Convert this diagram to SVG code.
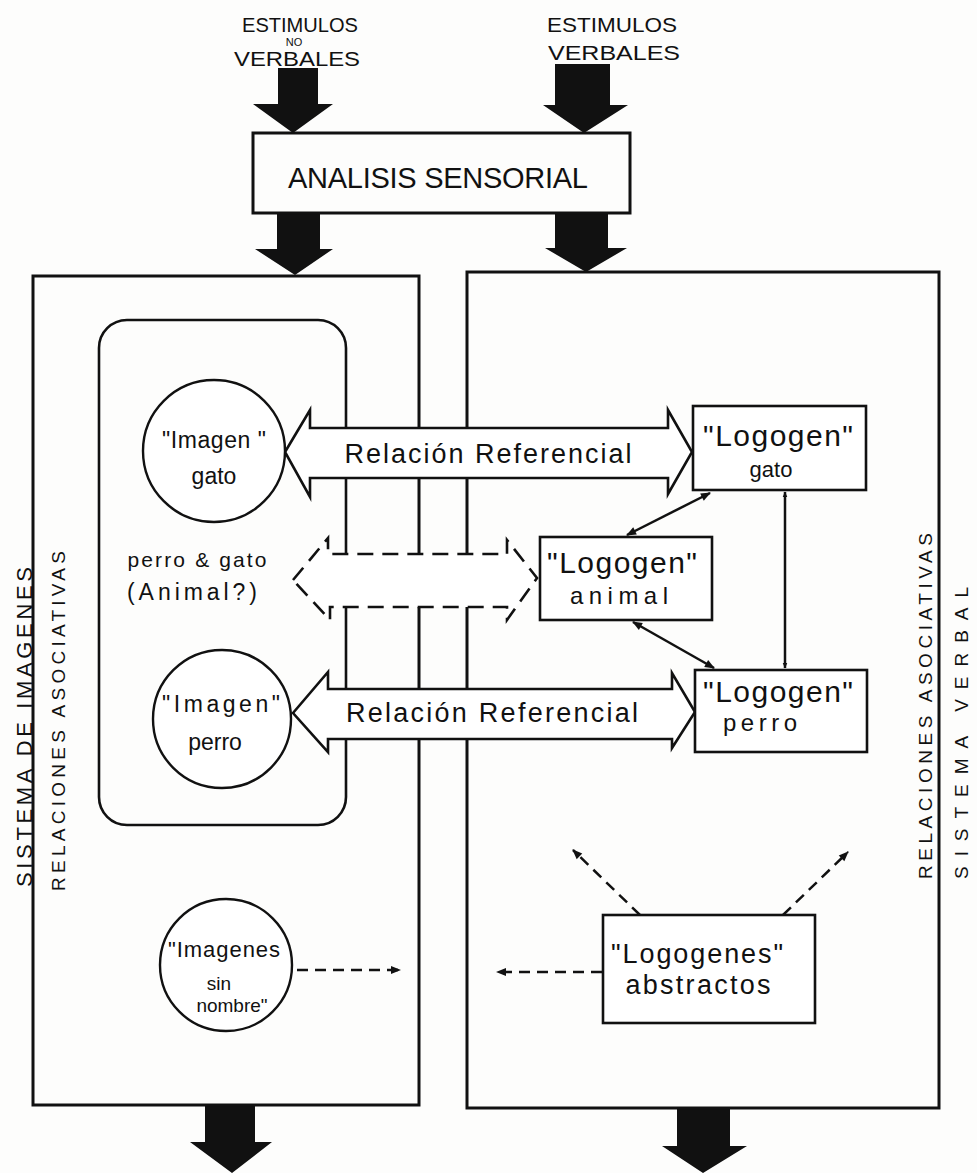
<svg xmlns="http://www.w3.org/2000/svg" width="977" height="1173" viewBox="0 0 977 1173">
<style>
  .bg{fill:#fdfdfc}
  .box{fill:none;stroke:#111;stroke-width:3}
  .wbox{fill:#fff;stroke:#111;stroke-width:2.6}
  .circ{fill:#fff;stroke:#111;stroke-width:2.4}
  .blk{fill:#111;stroke:none}
  .dbl{fill:#fff;stroke:#111;stroke-width:2.6;stroke-linejoin:miter}
  .dash{fill:#fff;stroke:#111;stroke-width:2.6;stroke-dasharray:16 9}
  .ln{fill:none;stroke:#111;stroke-width:2.5}
  .dl{fill:none;stroke:#111;stroke-width:2.5;stroke-dasharray:11 7}
  text{font-family:"Liberation Sans","DejaVu Sans",sans-serif;fill:#111}
  .cap{font-size:21px}
  .hw{font-size:22px}
  .side{font-size:20px}
</style>
<defs>
  <marker id="ah" viewBox="0 0 10 10" refX="9" refY="5" markerWidth="6" markerHeight="6" orient="auto-start-reverse" markerUnits="userSpaceOnUse">
    <path d="M0,1 L10,5 L0,9 Z" fill="#111"/>
  </marker>
  <marker id="ah2" viewBox="0 0 10 10" refX="9" refY="5" markerWidth="12" markerHeight="10" orient="auto-start-reverse" markerUnits="userSpaceOnUse">
    <path d="M0,1 L10,5 L0,9 Z" fill="#111"/>
  </marker>
</defs>
<rect class="bg" x="0" y="0" width="977" height="1173"/>

<g id="labels-top">
  <text class="cap" x="300" y="32" text-anchor="middle" textLength="116" lengthAdjust="spacingAndGlyphs">ESTIMULOS</text>
  <text x="294" y="46" text-anchor="middle" style="font-size:11px">NO</text>
  <text class="cap" x="297" y="66" text-anchor="middle" textLength="126" lengthAdjust="spacingAndGlyphs">VERBALES</text>
  <text class="cap" x="612" y="32" text-anchor="middle" textLength="130" lengthAdjust="spacingAndGlyphs">ESTIMULOS</text>
  <text class="cap" x="614" y="60" text-anchor="middle" textLength="132" lengthAdjust="spacingAndGlyphs">VERBALES</text>
</g>

<g id="connectors">
  <polygon class="blk" points="278,68 318,68 318,104 333,104 293,133 253,104 278,104"/>
  <polygon class="blk" points="555,64 610,64 610,105 628,105 584,133 543,105 555,105"/>
  <polygon class="blk" points="277,213 320,213 320,249 333,249 295,275 255,249 277,249"/>
  <polygon class="blk" points="555,213 608,213 608,248 627,248 586,272 545,248 555,248"/>
  <polygon class="blk" points="205,1105 255,1105 255,1142 272,1142 232,1173 190,1142 205,1142"/>
  <polygon class="blk" points="677,1108 730,1108 730,1146 747,1146 703,1173 662,1146 677,1146"/>
</g>

<g id="analisis">
  <rect class="box" x="253" y="133" width="377" height="80" fill="#fff"/>
  <text x="438" y="188" text-anchor="middle" style="font-size:29px" textLength="300" lengthAdjust="spacing">ANALISIS  SENSORIAL</text>
</g>

<g id="sistema-imagenes">
  <rect class="box" x="33" y="276" width="386" height="829"/>
  <text class="side" transform="translate(32,727) rotate(-90)" text-anchor="middle" style="font-size:22px" textLength="320" lengthAdjust="spacing">SISTEMA DE IMAGENES</text>
  <text class="side" transform="translate(65,721) rotate(-90)" text-anchor="middle" style="font-size:19px" textLength="340" lengthAdjust="spacing">RELACIONES ASOCIATIVAS</text>
</g>

<g id="sistema-verbal">
  <rect class="box" x="467" y="272" width="472" height="836"/>
  <text class="side" transform="translate(932,706) rotate(-90)" text-anchor="middle" style="font-size:19px" textLength="346" lengthAdjust="spacing">RELACIONES ASOCIATIVAS</text>
  <text class="side" transform="translate(968,733) rotate(-90)" text-anchor="middle" style="font-size:19px" textLength="292" lengthAdjust="spacing">SISTEMA VERBAL</text>
</g>

<g id="grupo-imagenes">
  <rect class="box" x="99" y="320" width="247" height="505" rx="28" ry="28" style="stroke-width:2.6"/>
</g>

<g id="relaciones">
  <polygon class="dbl" points="285,452 310,410 310,428 668,428 668,410 692,452 668,494 668,478 310,478 310,497"/>
  <text class="hw" x="488" y="463" text-anchor="middle" style="font-size:27px" textLength="287" lengthAdjust="spacing">Relación Referencial</text>
  <polygon class="dash" points="293,580 328,538 328,554 507,554 507,540 537,578 507,620 507,607 330,607 330,620"/>
  <polygon class="dbl" points="293,713 328,672 328,689 672,689 672,673 695,712 672,748 672,739 328,739 328,752"/>
  <text class="hw" x="492" y="722" text-anchor="middle" style="font-size:27px" textLength="292" lengthAdjust="spacing">Relación Referencial</text>
</g>

<g id="imagen-gato">
  <circle class="circ" cx="214" cy="451" r="71"/>
  <text class="hw" x="214" y="448" text-anchor="middle" style="font-size:23px" textLength="104" lengthAdjust="spacing">"Imagen "</text>
  <text class="hw" x="214" y="484" text-anchor="middle" style="font-size:23px">gato</text>
</g>

<g id="perro-gato">
  <text class="hw" x="197" y="567" text-anchor="middle" style="font-size:21px" textLength="139" lengthAdjust="spacing">perro &amp; gato</text>
  <text class="hw" x="192" y="600" text-anchor="middle" style="font-size:23px" textLength="130" lengthAdjust="spacing">(Animal?)</text>
</g>

<g id="imagen-perro">
  <circle class="circ" cx="222" cy="719" r="69"/>
  <text class="hw" x="221" y="712" text-anchor="middle" style="font-size:23px" textLength="118" lengthAdjust="spacing">"Imagen"</text>
  <text class="hw" x="215" y="750" text-anchor="middle" style="font-size:23px">perro</text>
</g>

<g id="imagenes-sin-nombre">
  <circle class="circ" cx="226" cy="965" r="66"/>
  <text class="hw" x="224" y="957" text-anchor="middle" textLength="112" lengthAdjust="spacing">"Imagenes</text>
  <text class="hw" x="219" y="990" text-anchor="middle" style="font-size:19px">sin</text>
  <text class="hw" x="232" y="1012" text-anchor="middle" style="font-size:19px">nombre"</text>
</g>

<g id="logogen-gato">
  <rect class="wbox" x="693" y="406" width="173" height="84"/>
  <text class="hw" x="778" y="446" text-anchor="middle" style="font-size:30px" textLength="150" lengthAdjust="spacing">"Logogen"</text>
  <text class="hw" x="771" y="477" text-anchor="middle">gato</text>
</g>

<g id="logogen-animal">
  <rect class="wbox" x="540" y="537" width="172" height="83"/>
  <text class="hw" x="622" y="573" text-anchor="middle" style="font-size:30px" textLength="150" lengthAdjust="spacing">"Logogen"</text>
  <text class="hw" x="619" y="604" text-anchor="middle" style="font-size:24px" textLength="98" lengthAdjust="spacing">animal</text>
</g>

<g id="logogen-perro">
  <rect class="wbox" x="695" y="670" width="172" height="82"/>
  <text class="hw" x="778" y="702" text-anchor="middle" style="font-size:30px" textLength="150" lengthAdjust="spacing">"Logogen"</text>
  <text class="hw" x="760" y="731" text-anchor="middle" style="font-size:24px" textLength="74" lengthAdjust="spacing">perro</text>
</g>

<g id="logogenes-abstractos">
  <rect class="wbox" x="603" y="915" width="212" height="108"/>
  <text class="hw" x="697" y="963" text-anchor="middle" style="font-size:27px" textLength="172" lengthAdjust="spacing">"Logogenes"</text>
  <text class="hw" x="698" y="994" text-anchor="middle" style="font-size:27px" textLength="145" lengthAdjust="spacing">abstractos</text>
</g>

<g id="connectors-small">
  <line class="ln" x1="627" y1="535" x2="710" y2="493" marker-start="url(#ah2)" marker-end="url(#ah2)"/>
  <line class="ln" x1="633" y1="622" x2="714" y2="668" marker-start="url(#ah2)" marker-end="url(#ah2)"/>
  <line class="ln" x1="785" y1="492" x2="785" y2="668" marker-start="url(#ah)" marker-end="url(#ah)"/>
  <line class="dl" x1="297" y1="970" x2="400" y2="970" marker-end="url(#ah2)"/>
  <line class="dl" x1="602" y1="972" x2="497" y2="972" marker-end="url(#ah2)"/>
  <line class="dl" x1="640" y1="915" x2="573" y2="850" marker-end="url(#ah2)"/>
  <line class="dl" x1="783" y1="915" x2="848" y2="852" marker-end="url(#ah2)"/>
</g>
</svg>
